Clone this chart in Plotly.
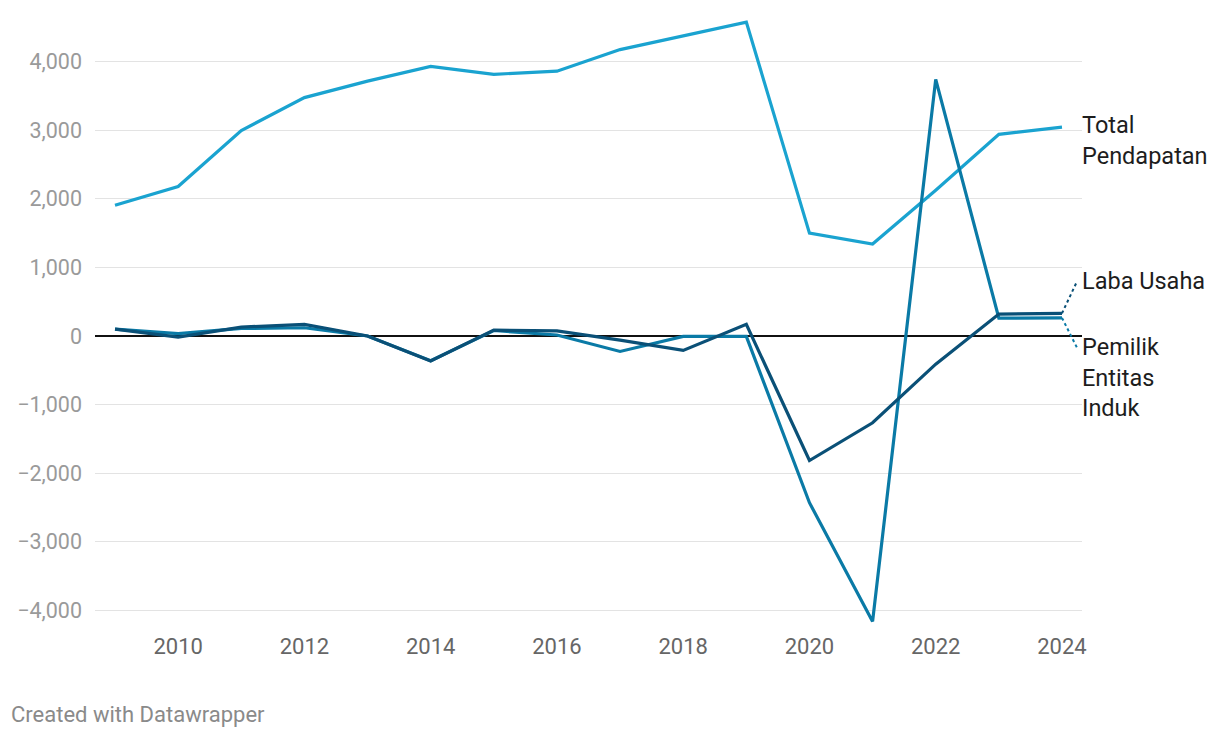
import plotly.graph_objects as go

years = list(range(2009, 2025))
total_pendapatan = [1905, 2180, 2995, 3475, 3715, 3930, 3815, 3860, 4175, 4380, 4575,
                    1500, 1340, 2125, 2940, 3045]
laba_usaha = [100, -15, 130, 170, 0, -365, 85, 75, -60, -210, 170,
              -1815, -1265, -410, 320, 330]
pemilik_entitas = [100, 35, 110, 120, 0, -360, 80, 15, -225, -5, -5,
                   -2430, -4160, 3740, 260, 265]

y_ticks = [-4000, -3000, -2000, -1000, 0, 1000, 2000, 3000, 4000]
x_ticks = [2010, 2012, 2014, 2016, 2018, 2020, 2022, 2024]

c_total = "#1aa3d0"
c_laba = "#0a5077"
c_pemilik = "#0a7aa6"

fig = go.Figure()

fig.add_trace(go.Scatter(x=years, y=total_pendapatan, mode="lines",
                         line=dict(color=c_total, width=3.2), name="Total Pendapatan"))
fig.add_trace(go.Scatter(x=years, y=pemilik_entitas, mode="lines",
                         line=dict(color=c_pemilik, width=3.2), name="Pemilik Entitas Induk"))
fig.add_trace(go.Scatter(x=years, y=laba_usaha, mode="lines",
                         line=dict(color=c_laba, width=3.2), name="Laba Usaha"))

# line labels on the right
label_font = dict(family="Roboto", size=23.5, color="#1d1d1d")
fig.add_annotation(x=1, xshift=-2, y=2850, text="Total<br>Pendapatan", xref="paper", yref="y",
                   xanchor="left", yanchor="middle", align="left", showarrow=False,
                   font=label_font)
fig.add_annotation(x=1, xshift=-2, y=800, text="Laba Usaha", xref="paper", yref="y",
                   xanchor="left", yanchor="middle", align="left", showarrow=False,
                   font=label_font)
fig.add_annotation(x=1, xshift=-2, y=-175, yshift=17, text="Pemilik<br>Entitas<br>Induk",
                   xref="paper", yref="y",
                   xanchor="left", yanchor="top", align="left", showarrow=False,
                   font=label_font)

# dotted connectors from line ends to labels
fig.add_shape(type="line", xref="x", yref="y", x0=years[-1], y0=laba_usaha[-1],
              x1=2024.24, y1=800, line=dict(color=c_laba, width=2, dash="dot"))
fig.add_shape(type="line", xref="x", yref="y", x0=years[-1], y0=pemilik_entitas[-1],
              x1=2024.24, y1=-175, line=dict(color=c_pemilik, width=2, dash="dot"))

fig.add_annotation(x=0, y=0, xref="paper", yref="paper", xshift=-86, yshift=-83,
                   text="Created with Datawrapper", showarrow=False,
                   xanchor="left", yanchor="middle",
                   font=dict(family="Roboto", size=22, color="#8a8a8a"))

fig.update_layout(
    width=1204, height=722,
    margin=dict(l=87, r=130, t=9, b=99),
    plot_bgcolor="white", paper_bgcolor="white",
    showlegend=False, hovermode=False,
    font=dict(family="Roboto"),
    xaxis=dict(range=[2008.683, 2024.317], tickvals=x_ticks, showgrid=False,
               zeroline=False, showline=False, ticks="",
               tickfont=dict(size=22, color="#666666")),
    yaxis=dict(range=[-4300, 4650], tickvals=y_ticks, tickformat=",",
               showgrid=True, gridcolor="#e3e3e3", gridwidth=1,
               zeroline=True, zerolinecolor="#111111", zerolinewidth=1.5,
               showline=False, ticks="", ticklabelstandoff=12,
               tickfont=dict(size=21.5, color="#9a9a9a")),
)

fig.write_html("out.html")
